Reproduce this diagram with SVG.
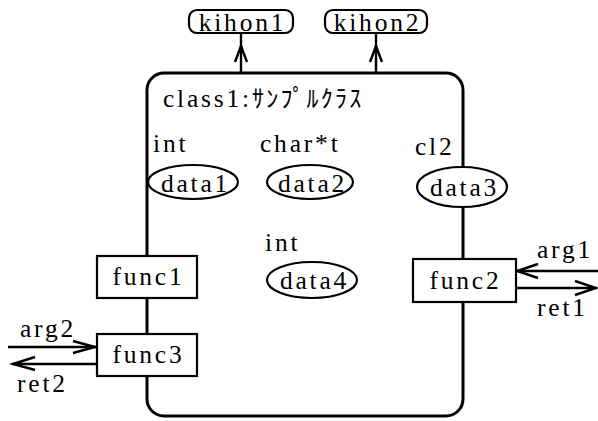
<svg xmlns="http://www.w3.org/2000/svg" width="598" height="421" viewBox="0 0 598 421">
<style>
text{font-family:"Liberation Serif","Noto Sans CJK JP",serif;font-size:25.5px;letter-spacing:2.8px;fill:#000}
.c{text-anchor:middle}
.n{fill:#fff;stroke:#000;stroke-width:2.2}
.l{fill:none;stroke:#000;stroke-width:2.4}
.a{fill:none;stroke:#000;stroke-width:2.4;stroke-linejoin:miter}
</style>
<rect width="598" height="421" fill="#fff"/>
<g id="connectors">
<line class="l" x1="241" y1="33" x2="241" y2="73"/>
<polyline class="a" points="235,62 241,46 247,62"/>
<line class="l" x1="376" y1="33" x2="376" y2="73"/>
<polyline class="a" points="370,62 376,46 382,62"/>
<line class="l" x1="8" y1="347" x2="96" y2="347"/>
<polyline class="a" points="73,341 95,347 73,353"/>
<line class="l" x1="12" y1="364" x2="97" y2="364"/>
<polyline class="a" points="35,357 13,364 35,370"/>
<line class="l" x1="516" y1="271" x2="598" y2="271"/>
<polyline class="a" points="538,264 517,271 538,278"/>
<line class="l" x1="516" y1="288" x2="597" y2="288"/>
<polyline class="a" points="575,281 596,288 575,295"/>
<text x="20" y="337">arg2</text>
<text x="17" y="392">ret2</text>
<text x="537" y="258">arg1</text>
<text x="537" y="316">ret1</text>
</g>
<g id="class1">
<rect x="147" y="73" width="316" height="343" rx="17" fill="none" stroke="#000" stroke-width="3"/>
<text x="163" y="107">class1:<tspan font-family="Noto Sans CJK JP" font-size="24px" letter-spacing="2.2">ｻﾝﾌﾟﾙｸﾗｽ</tspan></text>
</g>
<g id="kihon1">
<rect class="n" x="189" y="10" width="104" height="23" rx="8"/>
<text class="c" x="242.5" y="31">kihon1</text>
</g>
<g id="kihon2">
<rect class="n" x="325" y="10" width="102" height="23" rx="8"/>
<text class="c" x="377.5" y="31">kihon2</text>
</g>
<g id="data1">
<text x="153" y="152">int</text>
<ellipse class="n" cx="193" cy="182" rx="45" ry="17"/>
<text class="c" x="195.5" y="192">data1</text>
</g>
<g id="data2">
<text x="260" y="152">char*t</text>
<ellipse class="n" cx="310" cy="182" rx="43" ry="17"/>
<text class="c" x="312.5" y="192">data2</text>
</g>
<g id="data3">
<text x="415" y="155">cl2</text>
<ellipse class="n" cx="462" cy="187" rx="45" ry="20"/>
<text class="c" x="464.5" y="196">data3</text>
</g>
<g id="data4">
<text x="265" y="251">int</text>
<ellipse class="n" cx="312" cy="280" rx="45" ry="18"/>
<text class="c" x="314.5" y="289">data4</text>
</g>
<g id="func1">
<rect class="n" x="97" y="256" width="100" height="42"/>
<text class="c" x="148.5" y="285">func1</text>
</g>
<g id="func3">
<rect class="n" x="97" y="334" width="100" height="42"/>
<text class="c" x="148.5" y="363">func3</text>
</g>
<g id="func2">
<rect class="n" x="413" y="259" width="103" height="43"/>
<text class="c" x="465.5" y="289">func2</text>
</g>
</svg>
